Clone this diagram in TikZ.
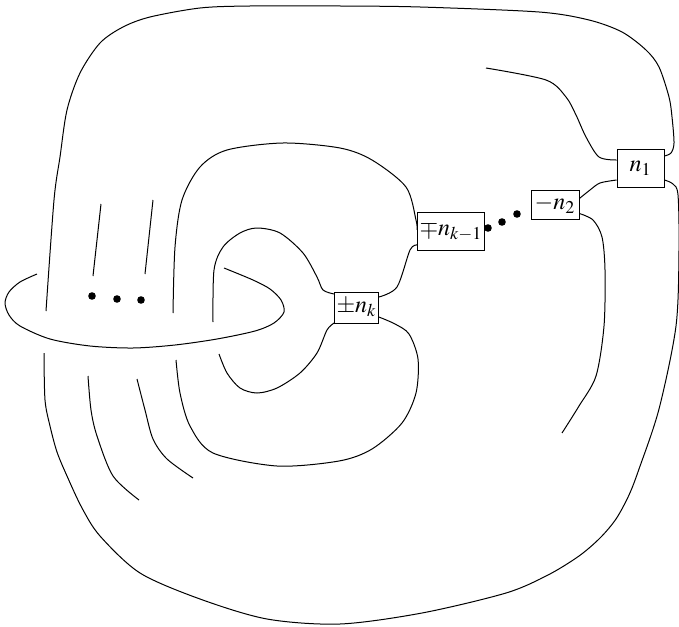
\documentclass[tikz,border=0pt]{standalone}
\usepackage{mathptmx}
\usetikzlibrary{calc}
\tikzstyle{twistbox}=[draw, inner sep=1pt, font=\large]
\tikzstyle{strand}=[line width=0.5pt, line join=round]

\begin{document}
\begin{tikzpicture}[x=0.5pt, y=-0.5pt]
    \useasboundingbox (0,0) rectangle (679,626);
    % twist boxes
    \node[twistbox, minimum width=23.5pt, minimum height=19pt] (n1) at (640.5,168) {$n_1$};
    \node[twistbox, minimum width=24pt, minimum height=14.5pt] (n2) at (555,204.5) {$-n_2$};
    \node[twistbox, minimum width=30pt, minimum height=19pt] (mp) at (451,231) {$\mp n_{k-1}$};
    \node[twistbox, minimum width=19.5pt, minimum height=15.5pt] (pm) at (356.5,308) {$\pm n_k$};
    % ends of strands on the boxes
    \coordinate (n1lt) at ($(n1.west)+(0,-8)$);
    \coordinate (n1lb) at ($(n1.west)+(0,12)$);
    \coordinate (n1rt) at ($(n1.east)+(0,-12)$);
    \coordinate (n1rb) at ($(n1.east)+(0,12)$);
    \coordinate (n2rt) at ($(n2.east)+(0,-6)$);
    \coordinate (n2rb) at ($(n2.east)+(0,9)$);
    \coordinate (mplt) at ($(mp.west)+(0,-1)$);
    \coordinate (mplb) at ($(mp.west)+(0,14)$);
    \coordinate (pmlt) at ($(pm.west)+(0,-14)$);
    \coordinate (pmlb) at ($(pm.west)+(0,15)$);
    \coordinate (pmrt) at ($(pm.east)+(0,-11)$);
    \coordinate (pmrb) at ($(pm.east)+(0,9)$);
    % free ends
    \coordinate (topend) at (486,68);
    \coordinate (rightend) at (562,433);
    % outer loop
    \draw[strand] plot[smooth] coordinates {(n1rt) (671,153) (674,143) (672,117) (669,97) (659,67) (646,50) (622,32) (589,20) (539,12) (420,7) (340,6) (250,6) (200,8) (150,17) (123,27) (100,43) (80,73) (67,110) (60,157) (54,200) (46,311)};
    \draw[strand] plot[smooth] coordinates {(44,353) (45,400) (50,426) (57,452) (67,476) (82,508) (100,536) (140,573) (200,599) (267,619) (340,624) (422,613) (506,593) (548,575) (579,556) (600,538) (616,519) (629,495) (639,469) (659,409) (676,326) (679,250) (678,195) (673,184) (n1rb)};
    % strands between the boxes
    \draw[strand] plot[smooth] coordinates {(topend) (546,80) (566,97) (576,115) (586,137) (599,157) (n1lt)};
    \draw[strand] plot[smooth] coordinates {(n1lb) (600,183) (590,190) (n2rt)};
    \draw[strand] plot[smooth] coordinates {(n2rb) (593,220) (602,237) (605,270) (604,326) (596,376) (579,406) (rightend)};
    \draw[strand] plot[smooth] coordinates {(mplt) (416,220) (406,187) (372,160) (340,148) (283,143) (227,150) (200,167) (182,200) (175,247) (173,313)};
    \draw[strand] plot[smooth] coordinates {(mplb) (410,250) (397,287) (pmrt)};
    \draw[strand] plot[smooth] coordinates {(pmlt) (323,290) (317,277) (303,253) (280,233) (257,228) (240,233) (223,247) (214,270) (213,322)};
    \draw[strand] plot[smooth] coordinates {(pmlb) (327,330) (317,353) (300,373) (277,388) (257,393) (240,388) (227,373) (219,354)};
    \draw[strand] plot[smooth] coordinates {(pmrb) (395,324) (409,334) (418,359) (416,393) (402,423) (372,449) (339,461) (277,466) (213,453) (190,426) (180,393) (176,360)};
    % the disc
    \draw[strand] plot[smooth] coordinates {(37,274) (20,282) (9,292) (5,303) (9,315) (20,326) (50,339) (90,346) (133,348) (175,345) (217,339) (255,331) (274,323) (284,312) (281,300) (270,289) (253,280) (224,268)};
    % strands through the disc
    \draw[strand] (101,204) -- (93,276);
    \draw[strand] (153,200) -- (145,274);
    \draw[strand] plot[smooth] coordinates {(88,376) (91,410) (97,436) (113,476) (139,500)};
    \draw[strand] plot[smooth] coordinates {(137,379) (145,410) (153,439) (167,459) (193,478)};
    % dots
    \foreach \x/\y in {92/296, 117/299, 141/300, 488/228, 502/222, 517/214}
        \fill (\x,\y) circle (1.9pt);
\end{tikzpicture}
\end{document}
